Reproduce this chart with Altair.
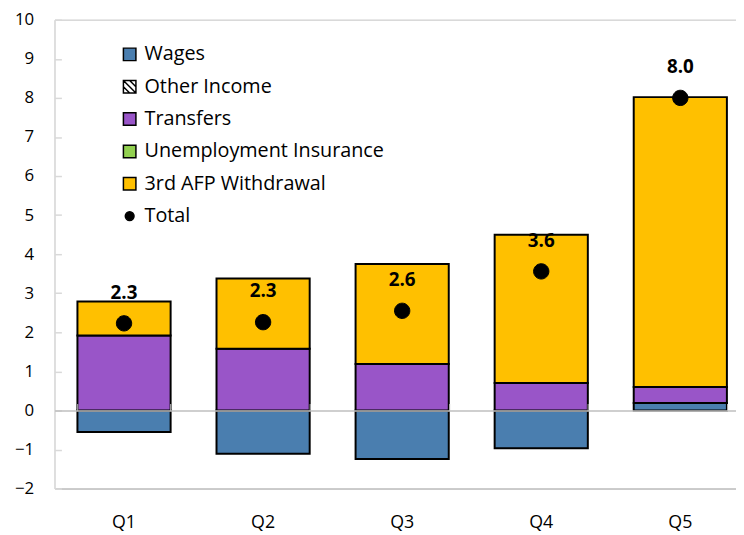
import altair as alt
import pandas as pd

quarters = ["Q1", "Q2", "Q3", "Q4", "Q5"]
series = ["Wages", "Other Income", "Transfers", "Unemployment Insurance", "3rd AFP Withdrawal"]
wages = [-0.55, -1.11, -1.24, -0.97, 0.19]
other_income = [0.0, 0.0, 0.0, 0.0, 0.0]
transfers = [1.92, 1.58, 1.19, 0.70, 0.41]
unemployment = [0.0, 0.0, 0.0, 0.0, 0.0]
afp = [0.87, 1.80, 2.56, 3.80, 7.42]
totals = [2.23, 2.26, 2.55, 3.56, 8.0]
total_labels = ["2.3", "2.3", "2.6", "3.6", "8.0"]

legend_names = series + ["Total"]
colors = ["#4A7EAF", "#FFFFFF", "#9955C8", "#92D050", "#FFC000", "#000000"]
hatch = "M-1,-1H1V1H-1Z M-1,0L0,1 M-1,-1L1,1 M0,-1L1,0"
small_circle = "M0.7,0A0.7,0.7 0 1,1 -0.7,0A0.7,0.7 0 1,1 0.7,0Z"
shapes = ["square", hatch, "square", "square", "square", small_circle]

rows = []
for s_idx, (name, vals) in enumerate(zip(series, [wages, other_income, transfers, unemployment, afp])):
    for q, v in zip(quarters, vals):
        rows.append({"quarter": q, "series": name, "value": v, "idx": s_idx})
bars_df = pd.DataFrame(rows)
tot_df = pd.DataFrame({"quarter": quarters, "total": totals, "label": total_labels, "series": "Total"})

FONT = "Open Sans"
W, H = 689, 474
ymin, ymax = -2, 10
zero_offset = -H * (ymax - 0) / (ymax - ymin)

xscale = alt.Scale(domain=quarters, range=[0, 703], paddingInner=0.33, paddingOuter=0.165)
yscale = alt.Scale(domain=[ymin, ymax], nice=False)
cscale = alt.Scale(domain=legend_names, range=colors)
sscale = alt.Scale(domain=legend_names, range=shapes)

leg = alt.Legend(title=None, orient="none", legendX=66, legendY=25, labelFont=FONT,
                 labelFontSize=20, labelColor="#000000", labelLimit=0, symbolSize=160,
                 rowPadding=12.7, labelOffset=5, symbolStrokeColor="#000000",
                 symbolStrokeWidth=1.5)

bars = alt.Chart(bars_df).transform_filter("datum.value != 0").mark_bar(
    stroke="#000000", strokeWidth=2
).encode(
    x=alt.X("quarter:N", scale=xscale, sort=quarters,
            axis=alt.Axis(title=None, orient="bottom", labelAngle=0, ticks=False, tickSize=0,
                          labelPadding=25, labelFont=FONT, labelFontSize=18, labelColor="#000000",
                          domainColor="#BFBFBF", domainWidth=1.5, grid=False)),
    y=alt.Y("value:Q", scale=yscale, stack="zero",
            axis=alt.Axis(title=None, values=list(range(ymin, ymax + 1)), ticks=False, tickSize=0,
                          labelPadding=21, labelFont=FONT, labelFontSize=17, labelColor="#000000",
                          domainColor="#D9D9D9", domainWidth=1.5, grid=False)),
    color=alt.Color("series:N", scale=cscale, legend=leg),
    order=alt.Order("idx:Q"),
)

text = alt.Chart(tot_df).mark_text(
    font=FONT, fontSize=19, fontWeight="bold", color="#000000", dy=-31, baseline="middle"
).encode(
    x=alt.X("quarter:N", sort=quarters,
            axis=alt.Axis(title=None, orient="top", offset=zero_offset, labels=False, ticks=True,
                          tickSize=7, tickBand="extent", tickColor="#BFBFBF", domainColor="#BFBFBF",
                          domainWidth=1.5, zindex=1, grid=False)),
    y=alt.Y("total:Q", axis=None),
    text="label:N",
)

points = alt.Chart(tot_df).mark_point(
    filled=True, size=490, stroke="#000000", strokeWidth=1, opacity=1
).encode(
    x=alt.X("quarter:N", sort=quarters,
            axis=alt.Axis(title=None, orient="top", labels=False, ticks=False, domainColor="#D9D9D9",
                          domainWidth=1.5, grid=False)),
    y=alt.Y("total:Q",
            axis=alt.Axis(title=None, orient="right", offset=-W, labels=False, domain=False,
                          ticks=True, tickSize=7, tickColor="#D9D9D9", tickWidth=1.5,
                          values=list(range(ymin, ymax + 1)), grid=False)),
    color=alt.Color("series:N", scale=cscale, legend=leg),
    shape=alt.Shape("series:N", scale=sscale, legend=leg),
)

chart = alt.layer(bars, text, points).resolve_axis(
    x="independent", y="independent"
).properties(
    width=W, height=H, autosize="none",
    padding={"left": 47, "top": 9, "right": 0, "bottom": 42},
).configure_view(stroke="transparent").configure(font=FONT)

chart.save("out.html", embed_options={"renderer": "svg", "actions": False})
